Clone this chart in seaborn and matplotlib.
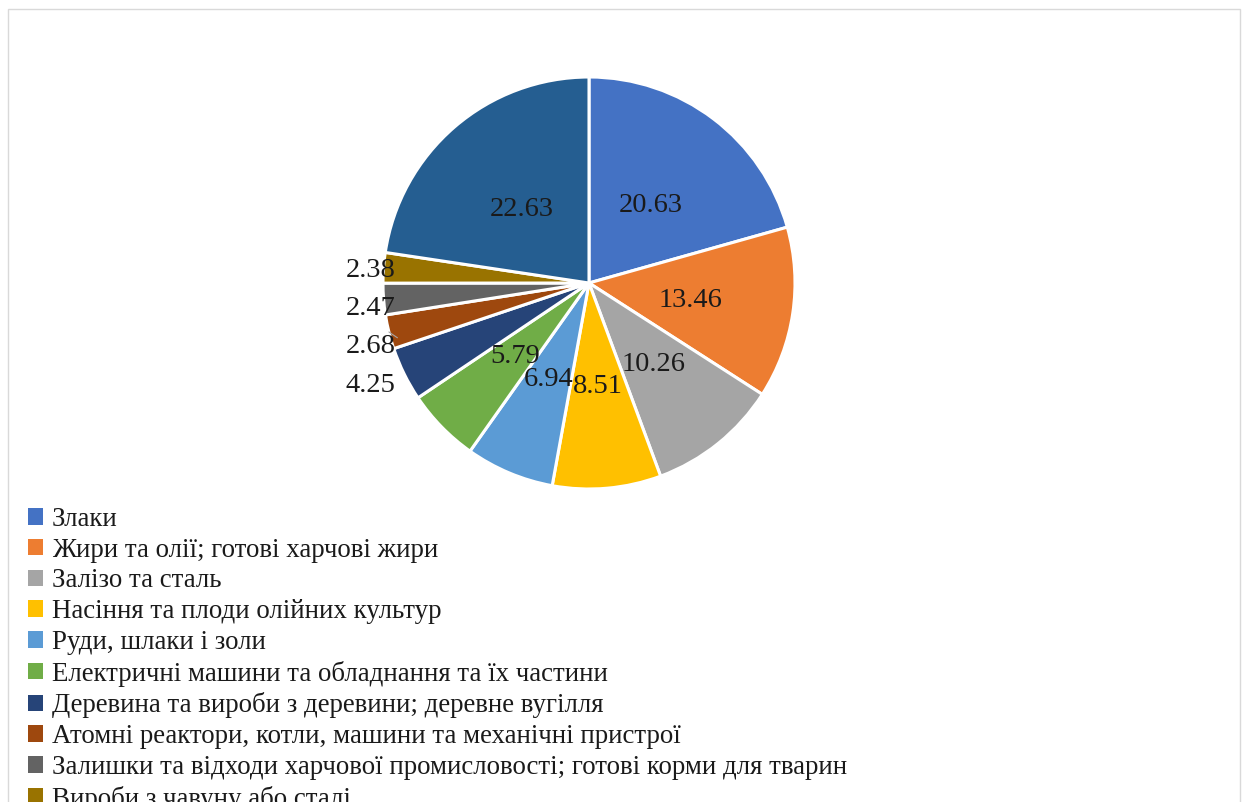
import matplotlib
matplotlib.use("Agg")
import matplotlib.pyplot as plt
from matplotlib.patches import Patch, Rectangle
import numpy as np
import seaborn as sns

# Export structure by commodity group, % of total
categories = [
    "Злаки",
    "Жири та олії; готові харчові жири",
    "Залізо та сталь",
    "Насіння та плоди олійних культур",
    "Руди, шлаки і золи",
    "Електричні машини та обладнання та їх частини",
    "Деревина та вироби з деревини; деревне вугілля",
    "Атомні реактори, котли, машини та механічні пристрої",
    "Залишки та відходи харчової промисловості; готові корми для тварин",
    "Вироби з чавуну або сталі",
    "Інші",
]
shares = [20.63, 13.46, 10.26, 8.51, 6.94, 5.79, 4.25, 2.68, 2.47, 2.38, 22.63]
colors = ["#4472C4", "#ED7D31", "#A5A5A5", "#FFC000", "#5B9BD5", "#70AD47",
          "#264478", "#9E480E", "#636363", "#997300", "#255E91"]

sns.set_theme(style="white")
plt.rcParams["font.family"] = ["Liberation Serif", "DejaVu Serif"]
palette = sns.color_palette(colors)

W, H = 1245, 802
fig = plt.figure(figsize=(W / 100, H / 100), dpi=100)
fig.patch.set_facecolor("white")

# pie centre and radius in pixels
cx, cy, r = 589, 283, 206
lim = 1.25
half = r * lim
ax = fig.add_axes([(cx - half) / W, (H - cy - half) / H, 2 * half / W, 2 * half / H])
wedges, _ = ax.pie(shares, colors=palette, startangle=90, counterclock=False,
                   radius=1, wedgeprops=dict(edgecolor="white", linewidth=2.2))
ax.set_xlim(-lim, lim)
ax.set_ylim(-lim, lim)
ax.set_aspect("equal")
ax.axis("off")

label_color = "#1a1a1a"
outside = []
for w, v in zip(wedges, shares):
    mid = np.deg2rad((w.theta1 + w.theta2) / 2)
    if v >= 5:
        ax.text(0.5 * np.cos(mid), 0.49 * np.sin(mid), f"{v:.2f}",
                ha="center", va="center_baseline", fontsize=20.5, color=label_color)
    else:
        outside.append((v, mid))

# small slices: labels stacked on the left, kept apart vertically
outside.sort(key=lambda t: -np.sin(t[1]))
prev = None
for v, mid in outside:
    y = np.sin(mid)
    if prev is not None and prev - y < 0.185:
        y = prev - 0.185
    prev = y
    ex, ey = np.cos(mid), np.sin(mid)
    ax.text(-0.94, y, f"{v:.2f}", ha="right", va="center_baseline",
            fontsize=20.5, color=label_color)
    if abs(ey - y) > 0.04:
        ax.plot([-0.93, ex], [y + 0.03, ey], color="#a6a6a6", lw=0.8)

# outer chart frame
fig.patches.append(Rectangle((8 / W, -0.05), (1240 - 8) / W, (H - 9) / H + 0.05,
                             transform=fig.transFigure, fill=False,
                             edgecolor="#d9d9d9", lw=1))

handles = [Patch(facecolor=c, edgecolor="none") for c in palette]
fig.legend(handles, categories, loc="upper left",
           bbox_to_anchor=(28 / W, 1 - 507 / H), frameon=False, fontsize=19.4,
           handlelength=0.56, handleheight=0.56, handletextpad=0.33,
           labelspacing=0.213, borderaxespad=0, borderpad=0, labelcolor="#1a1a1a")

fig.savefig("out.png", dpi=100, facecolor="white")
